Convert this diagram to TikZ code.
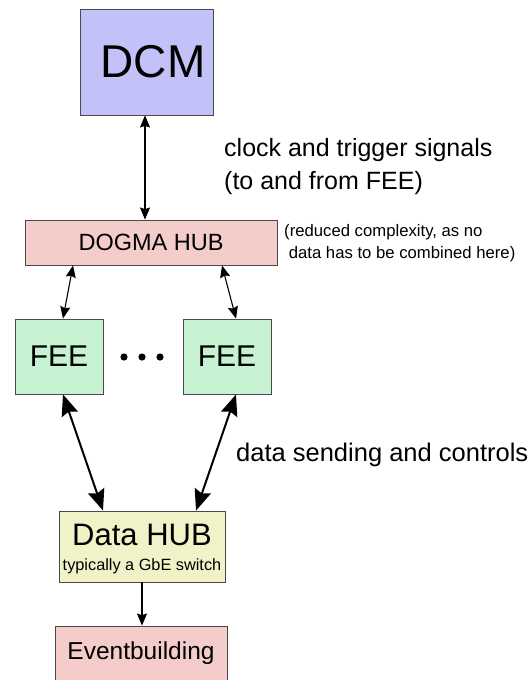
\documentclass[tikz,border=0pt]{standalone}
\usepackage{fontspec}
\setmainfont{Liberation Sans}
\usetikzlibrary{arrows.meta}
\definecolor{dcmfill}{HTML}{C2C2F8}
\definecolor{hubfill}{HTML}{F4CDCB}
\definecolor{feefill}{HTML}{C6F2D2}
\definecolor{datafill}{HTML}{F2F2C8}
\definecolor{edge}{HTML}{4A4A4A}
\tikzset{
  box/.style={draw=edge, line width=0.9pt, inner sep=0pt},
  thin link/.style={line width=1.1pt, {Stealth[length=12pt,width=10pt,inset=1.5pt]}-{Stealth[length=12pt,width=10pt,inset=1.5pt]}},
  thick link/.style={line width=2pt, {Stealth[length=21pt,width=17pt,inset=3pt]}-{Stealth[length=21pt,width=17pt,inset=3pt]}},
  one way/.style={line width=1.1pt, -{Stealth[length=12pt,width=10pt,inset=1.5pt]}},
  note/.style={anchor=west, align=left, inner sep=0pt},
}
\begin{document}
\begin{tikzpicture}[x=1pt,y=-1pt]
\useasboundingbox (0,0) rectangle (531,680);

% boxes
\node[box, fill=dcmfill, minimum width=133, minimum height=106] (dcm) at (146.5,62) {};
\node[font=\fontsize{46}{50}\selectfont] (dcmtext) at (153,62) {DCM};
\node[box, fill=hubfill, minimum width=252, minimum height=45, font=\fontsize{23.5}{26}\selectfont] (dogma) at (151,242.5) {DOGMA HUB};
\node[box, fill=feefill, minimum width=88, minimum height=75, font=\fontsize{30}{34}\selectfont] (fee1) at (59,356.5) {FEE};
\node[box, fill=feefill, minimum width=88, minimum height=75, font=\fontsize{30}{34}\selectfont] (fee2) at (227,356.5) {FEE};
\node[box, fill=datafill, minimum width=166, minimum height=71] (datahub) at (142,546.5) {};
\node[font=\fontsize{31}{34}\selectfont, inner sep=0pt] (dataname) at (142,535) {Data HUB};
\node[font=\fontsize{16.3}{18}\selectfont, inner sep=0pt] (datasub) at (142,566) {typically a GbE switch};
\node[box, fill=hubfill, minimum width=172, minimum height=54, font=\fontsize{24.5}{27}\selectfont] (event) at (141,653) {Eventbuilding};

% dots between the FEE boxes
\foreach \px/\nm in {124/d1,142/d2,160/d3}
  \fill (\px,357) circle (3.6) coordinate (\nm);

% texts
\node[note, font=\fontsize{25}{33}\selectfont] (clock) at (224,167) {clock and trigger signals\\(to and from FEE)};
\node[note, font=\fontsize{16.7}{22}\selectfont] (reduced) at (284,243) {(reduced complexity, as no\\\ data has to be combined here)};
\node[note, font=\fontsize{25.5}{28}\selectfont] (sending) at (236,455) {data sending and controls};

% connectors
\draw[thin link] ([xshift=-1.5]dcm.south) -- ([xshift=-6]dogma.north);
\draw[thin link] ([xshift=-78]dogma.south) -- ([xshift=4]fee1.north);
\draw[thin link] ([xshift=71]dogma.south) -- ([xshift=9]fee2.north);
\draw[thick link] ([xshift=4]fee1.south) -- ([xshift=-39]datahub.north);
\draw[thick link] ([xshift=9]fee2.south) -- ([xshift=54]datahub.north);
\draw[one way] (datahub.south) -- (datahub.south |- event.north);
\end{tikzpicture}
\end{document}
